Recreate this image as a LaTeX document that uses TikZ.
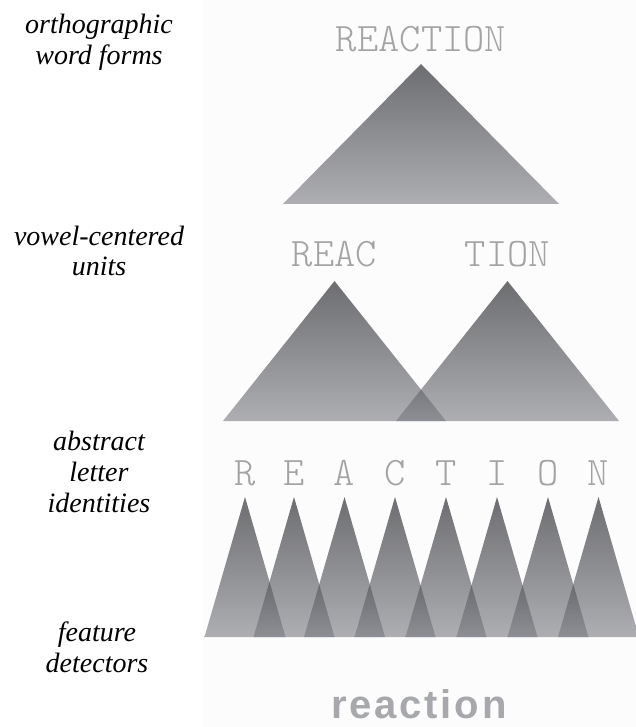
\documentclass[tikz,border=0pt]{standalone}
\usepackage{fontspec}
\setmainfont{Liberation Serif}
\newfontfamily\monofam{lmmonolt10-regular.otf}
\newfontfamily\wordfam[LetterSpace=7]{Liberation Sans}
\definecolor{tritop}{RGB}{10,11,16}
\definecolor{tribot}{RGB}{120,121,127}
\definecolor{lettergray}{RGB}{163,163,165}
\definecolor{wordgray}{RGB}{167,168,172}
\definecolor{bgpanel}{RGB}{252,252,252}
\begin{document}
\begin{tikzpicture}[x=1pt,y=-1pt,
  tri/.style={top color=tritop,bottom color=tribot,opacity=0.59},
  lab/.style={font=\fontsize{28}{31}\selectfont\itshape,anchor=base,inner sep=0pt},
  mono/.style={font=\fontsize{40.5}{43}\selectfont\monofam,text=lettergray,anchor=base,inner sep=0pt}]
\useasboundingbox (0,0) rectangle (636,727);
\fill[bgpanel] (203,0) rectangle (636,727);
% level 1
\shade[tri] (283,204) -- (421,64) -- (559,204) -- cycle;
\node[mono] (word) at (421,52) {REACTION};
% level 2
\shade[tri] (223,421) -- (334.5,281) -- (446,421) -- cycle;
\shade[tri] (396,421) -- (507.5,281) -- (619,421) -- cycle;
\node[mono] (reac) at (334.5,266) {REAC};
\node[mono] (tion) at (507.5,266) {TION};
% level 3
\foreach \x/\l [count=\i] in {245/R,294/E,344.5/A,395/C,446/T,497/I,548/O,598.5/N}{
  \shade[tri] (\x-40.5,637) -- (\x,497) -- (\x+40.5,637) -- cycle;
  \node[mono] (let\i) at (\x,485) {\l};
}
% bottom word
\node[font=\fontsize{40}{44}\selectfont\wordfam\bfseries,text=wordgray,anchor=base,inner sep=0pt] (input) at (419,718) {reaction};
% left labels
\node[lab] (l1a) at (99,34) {orthographic};
\node[lab] (l1b) at (99,65) {word forms};
\node[lab] (l2a) at (99,245) {vowel-centered};
\node[lab] (l2b) at (99,275) {units};
\node[lab] (l3a) at (99,450) {abstract};
\node[lab] (l3b) at (99,481) {letter};
\node[lab] (l3c) at (99,512) {identities};
\node[lab] (l4a) at (97,641) {feature};
\node[lab] (l4b) at (97,672) {detectors};
\end{tikzpicture}
\end{document}
